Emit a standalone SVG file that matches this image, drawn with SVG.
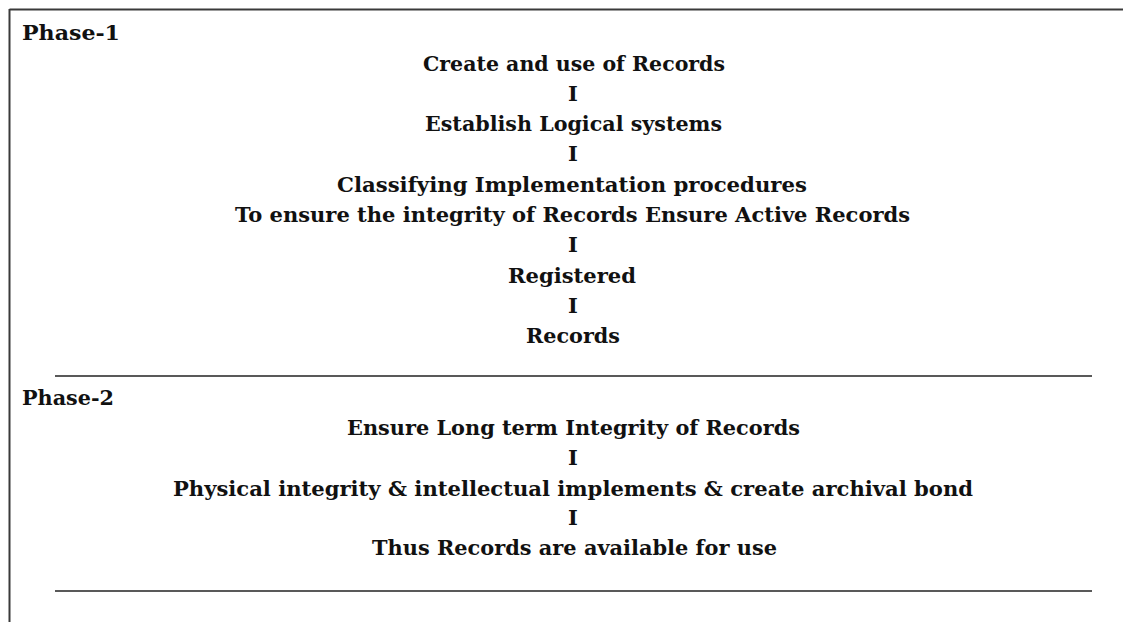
<svg xmlns="http://www.w3.org/2000/svg" width="1123" height="622" viewBox="0 0 1123 622">
<style>
.t{font-family:"DejaVu Serif","Liberation Serif",serif;font-weight:bold;font-size:21px;fill:#111;}
.c{text-anchor:middle;}
.frame{stroke:#3a3a3a;stroke-width:2;fill:none;}
.sep{stroke:#222;stroke-width:1.6;}
</style>
<rect width="1123" height="622" fill="#fff"/>
<g id="frame">
<line class="frame" x1="9.5" y1="9.5" x2="1123" y2="9.5"/>
<line class="frame" x1="9.5" y1="9" x2="9.5" y2="622"/>
</g>
<g id="phase1">
<text class="t" x="22" y="40" textLength="98" lengthAdjust="spacingAndGlyphs">Phase-1</text>
</g>
<g id="n-create"><text class="t c" x="574" y="71" textLength="302" lengthAdjust="spacingAndGlyphs">Create and use of Records</text></g>
<g id="n-establish"><text class="t c" x="573.5" y="131" textLength="297" lengthAdjust="spacingAndGlyphs">Establish Logical systems</text></g>
<g id="n-classify"><text class="t c" x="572" y="192" textLength="470" lengthAdjust="spacingAndGlyphs">Classifying Implementation procedures</text>
<text class="t c" x="572.5" y="222" textLength="675" lengthAdjust="spacingAndGlyphs">To ensure the integrity of Records Ensure Active Records</text></g>
<g id="n-registered"><text class="t c" x="572" y="283" textLength="128" lengthAdjust="spacingAndGlyphs">Registered</text></g>
<g id="n-records"><text class="t c" x="573" y="343" textLength="94" lengthAdjust="spacingAndGlyphs">Records</text></g>
<g id="phase2">
<text class="t" x="22" y="405" textLength="92" lengthAdjust="spacingAndGlyphs">Phase-2</text>
</g>
<g id="n-ensure"><text class="t c" x="573.5" y="435" textLength="453" lengthAdjust="spacingAndGlyphs">Ensure Long term Integrity of Records</text></g>
<g id="n-physical"><text class="t c" x="573" y="496" textLength="800" lengthAdjust="spacingAndGlyphs">Physical integrity &amp; intellectual implements &amp; create archival bond</text></g>
<g id="n-thus"><text class="t c" x="574.5" y="555" textLength="405" lengthAdjust="spacingAndGlyphs">Thus Records are available for use</text></g>
<g id="connectors">
<text class="t c" x="573" y="101">I</text>
<text class="t c" x="573" y="161">I</text>
<text class="t c" x="573" y="252">I</text>
<text class="t c" x="573" y="313">I</text>
<text class="t c" x="573" y="465">I</text>
<text class="t c" x="573" y="525">I</text>
</g>
<g id="separators">
<line class="sep" x1="55" y1="376" x2="1092" y2="376"/>
<line class="sep" x1="55" y1="591" x2="1092" y2="591"/>
</g>
</svg>
